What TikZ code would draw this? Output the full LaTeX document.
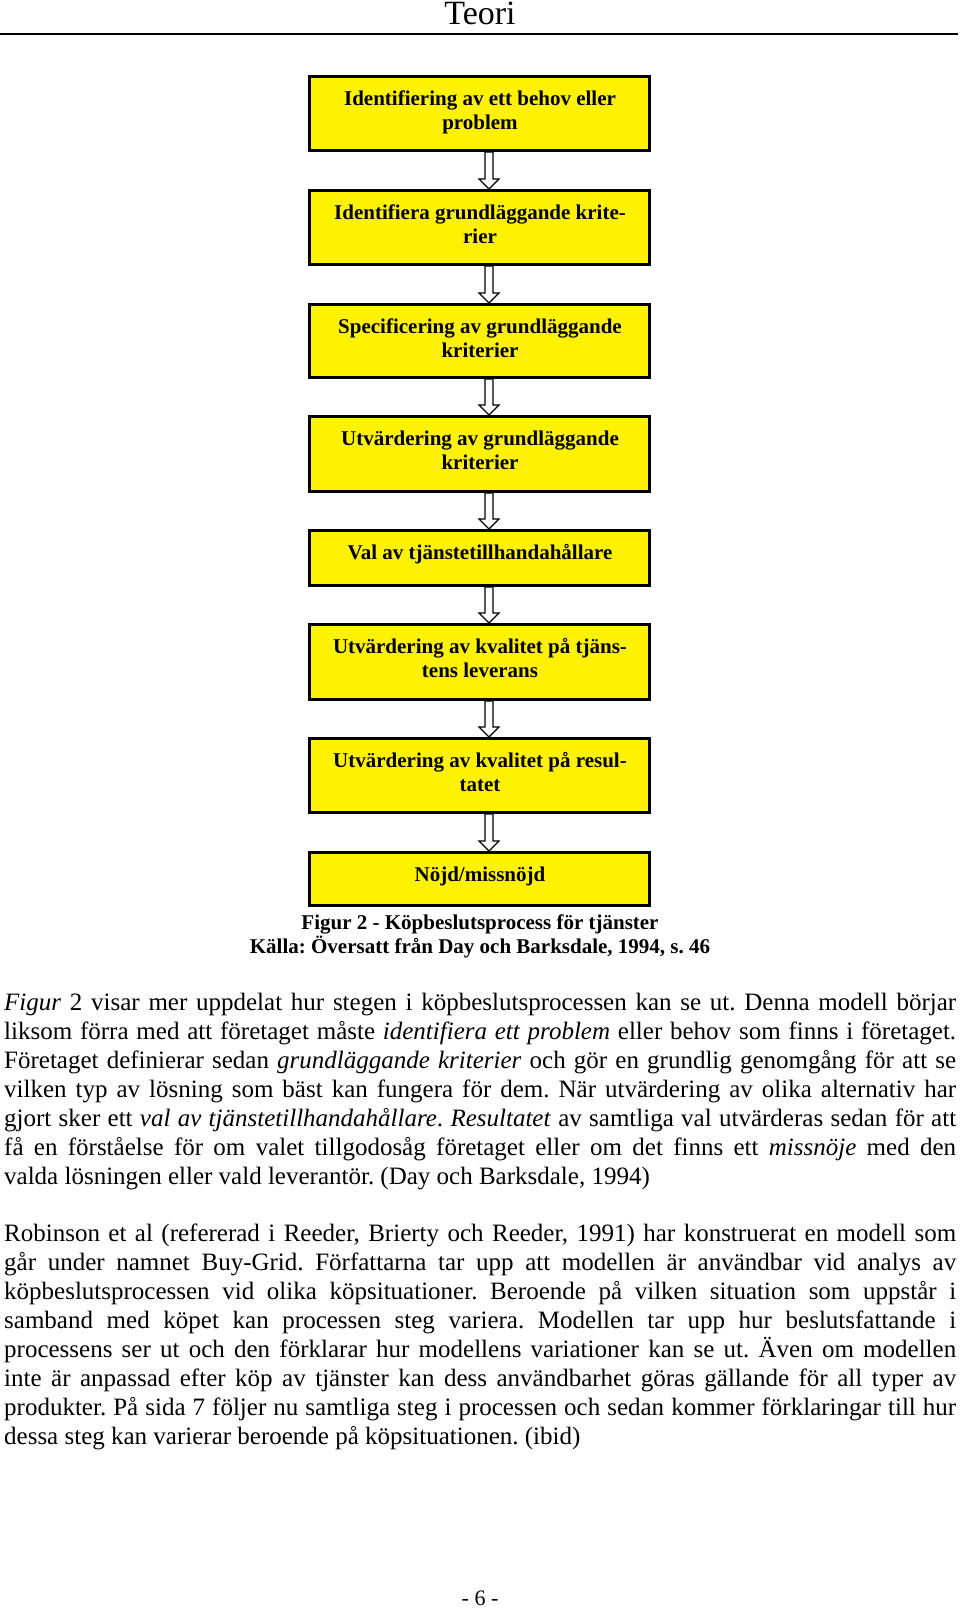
\documentclass[tikz,border=0pt]{standalone}
\usepackage{fontspec}
\setmainfont{Liberation Serif}
\usetikzlibrary{calc}
\frenchspacing
\begin{document}
\begin{tikzpicture}[x=1pt,y=-1pt,
  box/.style={draw=black, line width=3pt, fill=yellow, minimum width=340pt, inner sep=0pt, outer sep=1.5pt},
  boxtext/.style={font=\fontsize{21}{24}\selectfont\bfseries, anchor=base, inner sep=0pt},
  captext/.style={font=\fontsize{21}{24}\selectfont\bfseries, anchor=base, inner sep=0pt},
  bodyline/.style={font=\fontsize{25}{29}\selectfont, anchor=base west, inner sep=0pt},
  flowarrow/.style={draw=black, line width=1.2pt, fill=white, line join=miter}
]
\useasboundingbox (0,0) rectangle (960,1609);
\newcommand\flowarr[2]{%
  \draw[flowarrow] let \p1=(#1.south), \p2=(#2.north) in
    (\x1+5.5pt,\y1) -- (\x1+5.5pt,\y2+10pt) -- (\x1-0.5pt,\y2+10pt) -- (\x1+9.5pt,\y2)
    -- (\x1+19.5pt,\y2+10pt) -- (\x1+13.5pt,\y2+10pt) -- (\x1+13.5pt,\y1) -- cycle;}
\newcommand\jline[3]{\node[bodyline] (#1) at (4,#2) {\makebox[952pt][s]{#3}};}
\newcommand\pline[3]{\node[bodyline] (#1) at (4,#2) {#3};}

% header
\node[font=\fontsize{34}{38}\selectfont, anchor=base, inner sep=0pt] (head) at (480,24) {Teori};
\coordinate (rl) at (0,34.3);
\coordinate (rr) at (958,34.3);
\draw[line width=2pt] (rl) -- (rr);

% boxes
\node[box, minimum height=74pt] (b1) at (479.5,113.5) {};
\node[box, minimum height=74pt] (b2) at (479.5,227.5) {};
\node[box, minimum height=73pt] (b3) at (479.5,341) {};
\node[box, minimum height=75pt] (b4) at (479.5,454) {};
\node[box, minimum height=55pt] (b5) at (479.5,558) {};
\node[box, minimum height=75pt] (b6) at (479.5,662) {};
\node[box, minimum height=74pt] (b7) at (479.5,775.5) {};
\node[box, minimum height=53pt] (b8) at (479.5,879) {};

\node[boxtext] (t1a) at (480,105) {Identifiering av ett behov eller};
\node[boxtext] (t1b) at (480,129) {problem};
\node[boxtext] (t2a) at (480,219) {Identifiera grundläggande krite-};
\node[boxtext] (t2b) at (480,243) {rier};
\node[boxtext] (t3a) at (480,333) {Specificering av grundläggande};
\node[boxtext] (t3b) at (480,357) {kriterier};
\node[boxtext] (t4a) at (480,445) {Utvärdering av grundläggande};
\node[boxtext] (t4b) at (480,469) {kriterier};
\node[boxtext] (t5a) at (480,559) {Val av tjänstetillhandahållare};
\node[boxtext] (t6a) at (480,653) {Utvärdering av kvalitet på tjäns-};
\node[boxtext] (t6b) at (480,677) {tens leverans};
\node[boxtext] (t7a) at (480,767) {Utvärdering av kvalitet på resul-};
\node[boxtext] (t7b) at (480,791) {tatet};
\node[boxtext] (t8a) at (480,881) {Nöjd/missnöjd};

\flowarr{b1}{b2}
\flowarr{b2}{b3}
\flowarr{b3}{b4}
\flowarr{b4}{b5}
\flowarr{b5}{b6}
\flowarr{b6}{b7}
\flowarr{b7}{b8}

% caption
\node[captext] (cap1) at (480,929) {Figur 2 - Köpbeslutsprocess för tjänster};
\node[captext] (cap2) at (480,953) {Källa: Översatt från Day och Barksdale, 1994, s. 46};

% paragraph 1
\jline{p1}{1010}{\textit{Figur} 2 visar mer uppdelat hur stegen i köpbeslutsprocessen kan se ut. Denna modell börjar}
\jline{p2}{1039}{liksom förra med att företaget måste \textit{identifiera ett problem} eller behov som finns i företaget.}
\jline{p3}{1068}{Företaget definierar sedan \textit{grundläggande kriterier} och gör en grundlig genomgång för att se}
\jline{p4}{1097}{vilken typ av lösning som bäst kan fungera för dem. När utvärdering av olika alternativ har}
\jline{p5}{1126}{gjort sker ett \textit{val av tjänstetillhandahållare}. \textit{Resultatet} av samtliga val utvärderas sedan för att}
\jline{p6}{1155}{få en förståelse för om valet tillgodosåg företaget eller om det finns ett \textit{missnöje} med den}
\pline{p7}{1184}{valda lösningen eller vald leverantör. (Day och Barksdale, 1994)}

% paragraph 2
\jline{q1}{1241}{Robinson et al (refererad i Reeder, Brierty och Reeder, 1991) har konstruerat en modell som}
\jline{q2}{1270}{går under namnet Buy-Grid. Författarna tar upp att modellen är användbar vid analys av}
\jline{q3}{1299}{köpbeslutsprocessen vid olika köpsituationer. Beroende på vilken situation som uppstår i}
\jline{q4}{1328}{samband med köpet kan processen steg variera. Modellen tar upp hur beslutsfattande i}
\jline{q5}{1357}{processens ser ut och den förklarar hur modellens variationer kan se ut. Även om modellen}
\jline{q6}{1386}{inte är anpassad efter köp av tjänster kan dess användbarhet göras gällande för all typer av}
\jline{q7}{1415}{produkter. På sida 7 följer nu samtliga steg i processen och sedan kommer förklaringar till hur}
\pline{q8}{1444}{dessa steg kan varierar beroende på köpsituationen. (ibid)}

% page number
\node[font=\fontsize{22}{24}\selectfont, anchor=base, inner sep=0pt] (pg) at (480,1605) {- 6 -};
\end{tikzpicture}
\end{document}
